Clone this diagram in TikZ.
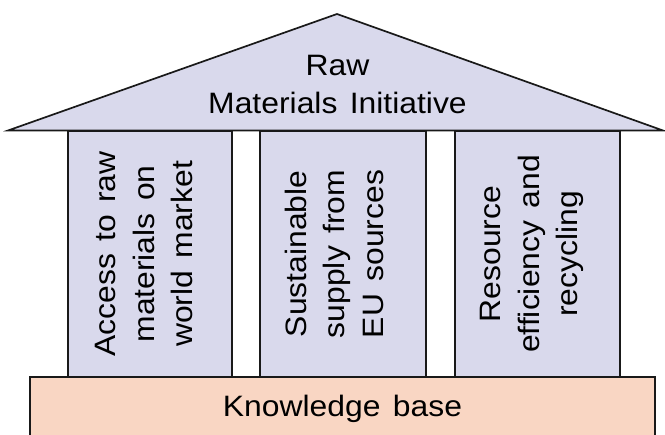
\documentclass[tikz,border=0pt]{standalone}
\usepackage{fontspec}
\setmainfont{Liberation Sans}[FakeStretch=1.08, WordSpace=1.4]
\definecolor{lav}{RGB}{217,217,236}
\definecolor{peach}{RGB}{249,214,195}
\definecolor{edge}{RGB}{25,25,25}
\tikzset{
  part/.style={draw=edge, line width=1.7pt, line join=miter},
  label/.style={inner sep=0pt, align=center, text=black,
    font=\fontsize{29.5}{38.5}\selectfont},
}
\begin{document}
\begin{tikzpicture}[x=1pt,y=-1pt]
\useasboundingbox (0,0) rectangle (665,435);
\clip (0,0) rectangle (665,435);
% base
\draw[part, fill=peach] (30,377) rectangle (655,445);
% pillars
\draw[part, fill=lav] (68,131) rectangle (232,377);
\draw[part, fill=lav] (260,131) rectangle (426,377);
\draw[part, fill=lav] (455,131) rectangle (620,377);
% roof
\coordinate (rl) at (8,130.5);
\coordinate (rt) at (337,14);
\coordinate (rr) at (663,130.5);
\draw[part, fill=lav] (rl) -- (rt) -- (rr) -- cycle;
% texts
\node[label] (roof) at (337.5,84.5) {Raw\\Materials Initiative};
\node[label, rotate=90] (p1) at (144,254) {Access to raw\\materials on\\world market};
\node[label, rotate=90] (p2) at (334,254) {Sustainable\\supply from\\EU sources};
\node[label, rotate=90] (p3) at (532,254) {Resource\\efficiency and\\recycling};
\node[label] (kb) at (342.5,409) {Knowledge base};
\end{tikzpicture}
\end{document}
